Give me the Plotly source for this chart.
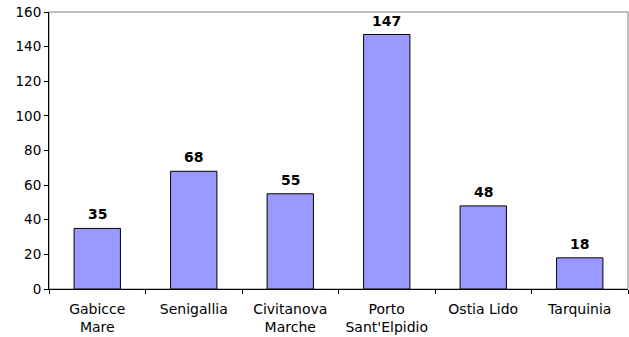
import plotly.graph_objects as go

categories = ["Gabicce<br>Mare", "Senigallia", "Civitanova<br>Marche", "Porto<br>Sant'Elpidio", "Ostia Lido", "Tarquinia"]
values = [35, 68, 55, 147, 48, 18]

fig = go.Figure()
fig.add_trace(go.Bar(
    x=categories, y=values,
    marker=dict(color="#9999FF", line=dict(color="black", width=1)),
    width=0.48,
))
annotations = [
    dict(x=c, y=v, text="<b>%d</b>" % v, showarrow=False, xref="x", yref="y",
         yanchor="bottom", yshift=4, font=dict(family="DejaVu Sans", size=14, color="black"))
    for c, v in zip(categories, values)
]
fig.update_layout(
    width=629, height=337,
    margin=dict(l=49, r=1, t=12, b=48),
    paper_bgcolor="white", plot_bgcolor="white",
    font=dict(family="DejaVu Sans", size=14, color="black"),
    showlegend=False,
    annotations=annotations,
    shapes=[dict(type="rect", xref="paper", yref="paper", x0=0, y0=0, x1=1, y1=1,
                 line=dict(color="#808080", width=1), layer="below")],
)
fig.update_xaxes(showline=True, linecolor="black", linewidth=1, ticks="outside",
                 tickson="boundaries", ticklen=4, tickcolor="black", showgrid=False,
                 ticklabelstandoff=7, automargin=False)
fig.update_yaxes(range=[0, 160], dtick=20, showline=True, linecolor="black", linewidth=1,
                 ticks="outside", ticklen=4, tickcolor="black", showgrid=False, zeroline=False,
                 automargin=False, tickfont=dict(size=13.5))
fig.write_html("out.html")
